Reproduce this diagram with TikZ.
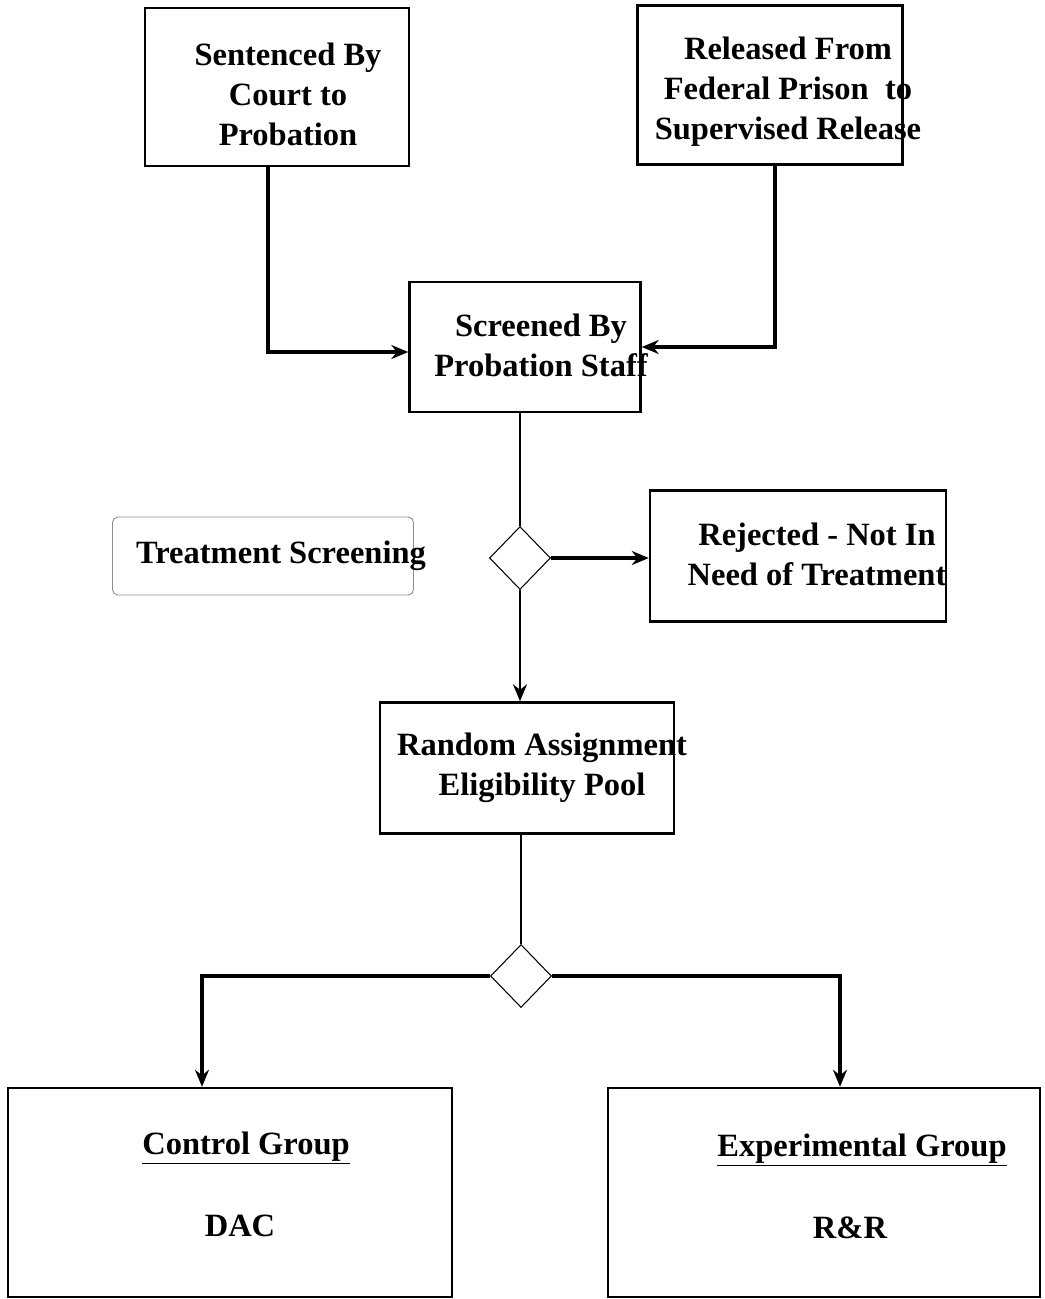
\documentclass[tikz,border=0pt]{standalone}
\usepackage{fontspec}
\setmainfont{Liberation Serif}
\usepackage{tikz}
\usetikzlibrary{shapes.geometric}
\usetikzlibrary{arrows.meta}

\tikzset{
	box/.style={draw, black, line width=1.4pt, inner sep=0pt},
	softbox/.style={draw, black!45, line width=0.5pt, rounded corners=3pt, inner sep=0pt},
	choice/.style={draw, black, diamond, line width=0.6pt, inner sep=0pt, minimum width=1.22cm, minimum height=1.26cm},
	lbl/.style={font=\bfseries\fontsize{18.5}{22.8}\selectfont, align=center, inner sep=0pt},
	flow/.style={line width=1.9pt, -{Stealth[length=3.4mm, width=2.8mm]}},
	thinflow/.style={line width=1.4pt, -{Stealth[length=3.4mm, width=2.8mm]}},
	link/.style={line width=1.4pt}
}

\begin{document}
\begin{tikzpicture}[x=0.02cm, y=-0.02cm]
						\useasboundingbox (0,0) rectangle (1045,1299);
						\node[box, minimum width=5.28cm, minimum height=3.16cm] (sent) at (277,87) {};
						\node[lbl] at (288,94) {Sentenced By\\Court to\\Probation};
						\node[box, minimum width=5.3cm, minimum height=3.18cm] (rel) at (770,85) {};
						\node[lbl] at (788,92) {Released From\\Federal Prison\ \ to\\Supervised Release};
						\node[box, minimum width=4.62cm, minimum height=2.6cm] (scr) at (525,347) {};
						\node[lbl] at (541,345) {Screened By\\Probation Staff};
						\node[softbox, minimum width=6.02cm, minimum height=1.56cm] (tscr) at (263,556) {};
						\node[lbl] at (281,556) {Treatment Screening};
						\node[choice] (dia1) at (520,558) {};
						\node[box, minimum width=5.92cm, minimum height=2.62cm] (rej) at (798,556) {};
						\node[lbl] at (817,554) {Rejected - Not In\\Need of Treatment};
						\node[box, minimum width=5.88cm, minimum height=2.62cm] (ra) at (527,768) {};
						\node[lbl] at (542,768) {Random Assignment\\Eligibility Pool};
						\node[choice] (dia2) at (521,976) {};
						\node[box, minimum width=8.88cm, minimum height=4.18cm] (ctrl) at (230,1192.5) {};
						\node[lbl] at (246,1148) {\underline{Control Group}};
						\node[lbl] at (240,1226) {DAC};
						\node[box, minimum width=8.64cm, minimum height=4.18cm] (expt) at (824,1192.5) {};
						\node[lbl] at (862,1150) {\underline{Experimental Group}};
						\node[lbl] at (850,1228) {R\&R};
						\draw[flow] (sent.south -| 268,0) |- (scr.west |- 0,352);
						\draw[flow] (rel.south -| 775,0) |- (scr.east);
						\draw[link] (scr.south -| dia1.north) -- (dia1.north);
						\draw[flow] (dia1.east) -- (rej.west |- dia1.east);
						\draw[thinflow] (dia1.south) -- (ra.north -| dia1.south);
						\draw[link] (ra.south -| dia2.north) -- (dia2.north);
						\draw[flow] (dia2.west) -| (202,0 |- ctrl.north);
						\draw[flow] (dia2.east) -| (840,0 |- expt.north);
					\end{tikzpicture}
\end{document}
